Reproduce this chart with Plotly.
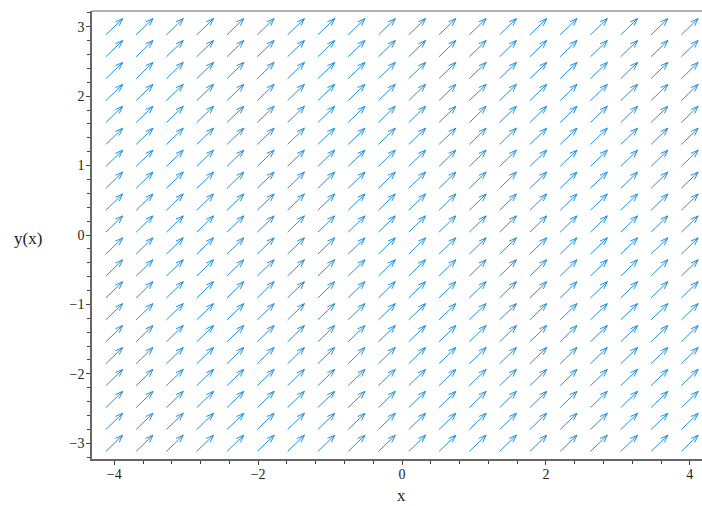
import numpy as np
import plotly.graph_objects as go

# Direction field for y'(x) = 1 on a 20 x 20 grid
x_grid = list(np.linspace(-4, 4, 20))
y_grid = list(np.linspace(-3, 3, 20))
slope_value = 1.0  # dy/dx everywhere

x_ticks = [-4, -2, 0, 2, 4]
y_ticks = [-3, -2, -1, 0, 1, 2, 3]

W, H = 702, 506
ml, mr, mt, mb = 92, 0, 11, 47
x_range = [-4.31, 4.17]
y_range = [-3.226, 3.226]
pw, ph = W - ml - mr, H - mt - mb
sx = pw / (x_range[1] - x_range[0])
sy = ph / (y_range[1] - y_range[0])

half_len = 11.7   # px
barb_len = 8.0    # px
barb_ang = np.deg2rad(20)

xs, ys = [], []
for xc in x_grid:
    for yc in y_grid:
        vx, vy = 1.0 * sx, slope_value * sy
        n = np.hypot(vx, vy)
        ux, uy = vx / n, vy / n
        tx, ty = xc - half_len * ux / sx, yc - half_len * uy / sy
        hx, hy = xc + half_len * ux / sx, yc + half_len * uy / sy
        xs += [tx, hx, None]
        ys += [ty, hy, None]
        for s in (1, -1):
            c, si = np.cos(s * barb_ang), np.sin(s * barb_ang)
            bx = -(ux * c - uy * si)
            by = -(ux * si + uy * c)
            xs += [hx, hx + barb_len * bx / sx, None]
            ys += [hy, hy + barb_len * by / sy, None]

fig = go.Figure()
fig.add_trace(go.Scatter(x=xs, y=ys, mode="lines",
                         line=dict(color="rgb(33,145,220)", width=1),
                         hoverinfo="skip", showlegend=False))

font = dict(family="Liberation Serif", size=14, color="#222")
axis_common = dict(showgrid=False, zeroline=False, showline=True,
                   linecolor="#666", linewidth=1.5, ticks="outside",
                   tickcolor="#444", ticklen=4, tickwidth=1, tickfont=font)
fig.update_xaxes(range=x_range, tickvals=x_ticks, ticklabelstandoff=-3, **axis_common,
                 minor=dict(dtick=0.4, tick0=0, ticklen=3, ticks="outside", tickcolor="#444"))
fig.update_yaxes(range=y_range, tickvals=y_ticks, ticklabelstandoff=-1, **axis_common,
                 minor=dict(dtick=0.2, tick0=0, ticklen=3, ticks="outside", tickcolor="#444"))

fig.add_shape(type="line", xref="paper", yref="paper", x0=0, x1=1, y0=1, y1=1,
              line=dict(color="#999", width=1.5))

fig.add_annotation(text="y(x)", xref="paper", yref="paper",
                   x=(28 - ml) / pw, y=(H - mb - 238) / ph, showarrow=False,
                   xanchor="center", yanchor="middle",
                   font=dict(family="Liberation Serif", size=17, color="#222"))
fig.add_annotation(text="x", xref="paper", yref="paper",
                   x=(401 - ml) / pw, y=-mb / ph, showarrow=False,
                   xanchor="center", yanchor="bottom", borderpad=0,
                   font=dict(family="Liberation Serif", size=17, color="#222"))

fig.update_layout(width=W, height=H, margin=dict(l=ml, r=mr, t=mt, b=mb),
                  plot_bgcolor="white", paper_bgcolor="white")
fig.write_html("out.html", config={"displayModeBar": False},
               post_script="document.body.style.margin='0';document.body.style.padding='0';document.body.style.overflow='hidden';")
